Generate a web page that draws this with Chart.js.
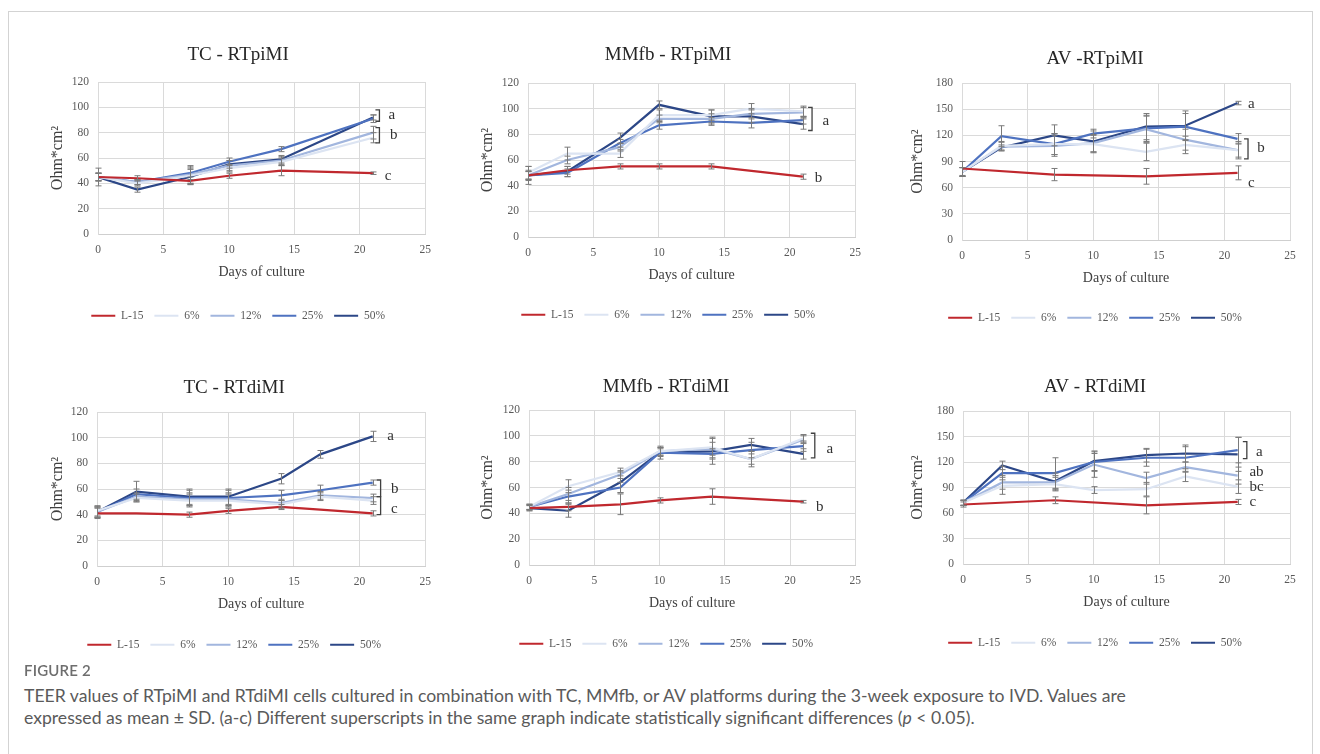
<!DOCTYPE html>
<html><head><meta charset="utf-8">
<script src="https://cdn.jsdelivr.net/npm/chart.js@4.4.1/dist/chart.umd.min.js"></script>
<style>
html,body{margin:0;padding:0;background:#fff}
body{width:1320px;height:754px;overflow:hidden;position:relative}
#frame{position:absolute;left:8px;top:11px;width:1305px;height:780px;border:1px solid #d3d3d3;box-sizing:border-box}
.cw{position:absolute}
#figlabel{position:absolute;left:24px;top:661px;font:600 15px Lato,sans-serif;color:#6e6e6e;letter-spacing:0.2px}
#caption{position:absolute;left:24px;top:685px;width:1285px;font:17.6px/22px Lato,sans-serif;color:#5a5a5a}
</style></head>
<body>
<div id="frame"></div>
<div class="cw" id="w0"><canvas id="c0"></canvas></div>
<div class="cw" id="w1"><canvas id="c1"></canvas></div>
<div class="cw" id="w2"><canvas id="c2"></canvas></div>
<div class="cw" id="w3"><canvas id="c3"></canvas></div>
<div class="cw" id="w4"><canvas id="c4"></canvas></div>
<div class="cw" id="w5"><canvas id="c5"></canvas></div>
<div id="figlabel">FIGURE 2</div>
<div id="caption">TEER values of RTpiMI and RTdiMI cells cultured in combination with TC, MMfb, or AV platforms during the 3-week exposure to IVD. Values are<br>expressed as mean ± SD. (a-c) Different superscripts in the same graph indicate statistically significant differences (<i>p</i> &lt; 0.05).</div>
<script>
// ---------------- DATA ----------------
const days = [0, 3, 7, 10, 14, 17, 21];
const seriesNames = ['L-15', '6%', '12%', '25%', '50%'];
const chartTitles = ['TC - RTpiMI', 'MMfb - RTpiMI', 'AV -RTpiMI', 'TC - RTdiMI', 'MMfb - RTdiMI', 'AV - RTdiMI'];
const yMaxima = [120, 120, 180, 120, 120, 180];
const yStepSizes = [20, 20, 30, 20, 20, 30];
const xAxisTitle = 'Days of culture';
const yAxisTitle = 'Ohm*cm²';

// TC - RTpiMI (rows: L-15, 6%, 12%, 25%, 50%)
const tcPiMean = [
  [45, 44, 42, 46, 50, null, 48],
  [45, 40, 46, 52, 57, null, 76],
  [45, 41, 47, 54, 58, null, 80],
  [45, 41, 48, 57, 67, null, 91],
  [45, 35, 45, 55, 59, null, 92]
];
const tcPiSd = [
  [7, 2, 3, 2, 4, null, 1],
  [3, 2, 6, 3, 3, null, 4],
  [3, 2, 7, 4, 3, null, 5],
  [3, 2, 5, 3, 2, null, 3],
  [3, 2, 6, 3, 3, null, 2]
];
// MMfb - RTpiMI
const mmPiMean = [
  [48, 52, 55, 55, 55, null, 47],
  [50, 65, 65, 95, 95, 100, 98],
  [48, 60, 70, 92, 92, 96, 97],
  [48, 50, 73, 87, 90, 89, 91],
  [48, 51, 77, 103, 94, 94, 88]
];
const mmPiSd = [
  [7, 3, 2, 2, 2, null, 2],
  [5, 5, 3, 4, 4, 4, 4],
  [4, 3, 3, 3, 4, 4, 4],
  [3, 3, 3, 3, 3, 4, 3],
  [3, 4, 4, 3, 5, 5, 4]
];
// AV - RTpiMI
const avPiMean = [
  [82, null, 75, null, 73, null, 77],
  [78, 108, 110, 110, 101, 109, 103],
  [78, 107, 108, 111, 127, 115, 103],
  [78, 119, 110, 122, 128, 130, 116],
  [78, 106, 120, 113, 130, 131, 157]
];
const avPiSd = [
  [8, null, 7, null, 9, null, 8],
  [5, 5, 12, 10, 10, 10, 8],
  [5, 5, 12, 10, 15, 12, 10],
  [5, 12, 12, 5, 15, 15, 6],
  [5, 3, 12, 12, 15, 17, 2]
];
// TC - RTdiMI
const tcDiMean = [
  [41, 41, 40, 43, 46, 44, 41],
  [43, 53, 51, 51, 48, 54, 51],
  [42, 54, 52, 52, 49, 55, 53],
  [42, 56, 53, 53, 55, 59, 65],
  [42, 58, 54, 54, 68, 87, 101]
];
const tcDiSd = [
  [4, null, 2, 2, 2, null, 2],
  [4, 3, 5, 5, 3, 3, 3],
  [4, 3, 5, 5, 3, 3, 3],
  [4, 4, 6, 6, 4, 4, 2],
  [4, 8, 6, 6, 4, 3, 4]
];
// MMfb - RTdiMI
const mmDiMean = [
  [44, 45, 47, 50, 53, null, 49],
  [45, 61, 72, 88, 91, 82, 98],
  [45, 55, 70, 88, 90, 82, 97],
  [45, 53, 60, 87, 86, 89, 92],
  [44, 42, 64, 87, 88, 93, 86]
];
const mmDiSd = [
  [2, 3, 8, 2, 6, null, 1],
  [2, 5, 3, 3, 8, 4, 3],
  [2, 5, 3, 3, 5, 6, 3],
  [2, 5, 4, 3, 4, 6, 4],
  [2, 5, 8, 5, 10, 5, 4]
];
// AV - RTdiMI
const avDiMean = [
  [70, null, 75, null, 69, null, 73],
  [72, 92, 94, 87, 88, 103, 91],
  [72, 96, 96, 117, 101, 114, 104],
  [72, 107, 107, 120, 125, 125, 134],
  [72, 116, 97, 121, 128, 130, 129]
];
const avDiSd = [
  [3, null, 4, null, 10, null, 3],
  [3, 10, 8, 4, 8, 6, 8],
  [3, 8, 8, 15, 7, 6, 10],
  [3, 8, 18, 10, 10, 13, 15],
  [3, 5, 10, 12, 8, 10, 20]
];
// significance letters (text, optional bracket span, placement in data units)
const sigLetters = [
  [{text:'a', bx:21.5, from:89, to:98, tx:22.2, ty:94}, {text:'b', bx:21.5, from:72, to:84, tx:22.3, ty:78}, {text:'c', tx:21.9, ty:46}],
  [{text:'a', bx:21.7, from:83, to:101, tx:22.5, ty:90}, {text:'b', tx:21.9, ty:46}],
  [{text:'a', tx:21.8, ty:156}, {text:'b', bx:21.8, from:93, to:116, tx:22.5, ty:105}, {text:'c', tx:21.8, ty:65}],
  [{text:'a', tx:22.1, ty:101}, {text:'b', bx:21.6, from:54, to:67, tx:22.4, ty:60}, {text:'c', bx:21.6, from:40, to:54, tx:22.4, ty:44}],
  [{text:'a', bx:21.9, from:83, to:102, tx:22.8, ty:90}, {text:'b', tx:22.0, ty:45}],
  [{text:'a', bx:21.7, from:124, to:144, tx:22.4, ty:132}, {text:'ab', tx:21.9, ty:108}, {text:'bc', tx:21.9, ty:91}, {text:'c', tx:21.9, ty:73}]
];
const allMeans = [tcPiMean, mmPiMean, avPiMean, tcDiMean, mmDiMean, avDiMean];
const allSds = [tcPiSd, mmPiSd, avPiSd, tcDiSd, mmDiSd, avDiSd];

// ---------------- STYLE / LAYOUT ----------------
const SERIF = "'Liberation Serif', 'Times New Roman', serif";
const seriesColors = ['#c0282e', '#dce4f2', '#a2b6de', '#4e72c0', '#2c4787'];
const canvasRects = [
  {x:40, y:30, w:400, h:320}, {x:470, y:30, w:400, h:320}, {x:900, y:30, w:410, h:320},
  {x:40, y:362, w:400, h:305}, {x:470, y:362, w:400, h:305}, {x:900, y:362, w:410, h:305}
];
const plotAreas = [
  {L:58, R:388, T:52, B:204}, {L:58, R:388, T:53, B:207}, {L:62, R:390, T:53, B:210},
  {L:57, R:386, T:50, B:204}, {L:59, R:387, T:48, B:203}, {L:63, R:390, T:49, B:202}
];
const titleCenters = [25, 25, 29, 26, 25, 25];
const xAxisHeights = [65, 61, 61, 62, 62, 62];

const errorBarPlugin = {
  id: 'errorBars',
  afterDatasetsDraw(chart) {
    const ctx = chart.ctx, xs = chart.scales.x, ys = chart.scales.y;
    ctx.save();
    ctx.strokeStyle = '#7a7a7a';
    ctx.lineWidth = 1;
    chart.data.datasets.forEach(ds => {
      ds.data.forEach((p, i) => {
        const sd = ds.sd[i];
        if (p.y == null || sd == null) return;
        const px = Math.round(xs.getPixelForValue(p.x)) + 0.5;
        const y1 = ys.getPixelForValue(p.y + sd), y2 = ys.getPixelForValue(p.y - sd);
        ctx.beginPath();
        ctx.moveTo(px, y1); ctx.lineTo(px, y2);
        ctx.moveTo(px - 3, y1); ctx.lineTo(px + 3, y1);
        ctx.moveTo(px - 3, y2); ctx.lineTo(px + 3, y2);
        ctx.stroke();
      });
    });
    ctx.restore();
  }
};

const sigPlugin = {
  id: 'sigLetters',
  afterDatasetsDraw(chart, args, opts) {
    const ctx = chart.ctx, xs = chart.scales.x, ys = chart.scales.y;
    ctx.save();
    ctx.strokeStyle = '#404040';
    ctx.fillStyle = '#333333';
    ctx.lineWidth = 1.3;
    ctx.font = '15px ' + SERIF;
    ctx.textAlign = 'left';
    ctx.textBaseline = 'middle';
    (opts.items || []).forEach(it => {
      if (it.bx != null) {
        const bx = xs.getPixelForValue(it.bx);
        const t = ys.getPixelForValue(it.to), b = ys.getPixelForValue(it.from);
        ctx.beginPath();
        ctx.moveTo(bx - 4, t); ctx.lineTo(bx, t); ctx.lineTo(bx, b); ctx.lineTo(bx - 4, b);
        ctx.stroke();
      }
      ctx.fillText(it.text, xs.getPixelForValue(it.tx), ys.getPixelForValue(it.ty));
    });
    ctx.restore();
  }
};

function buildChart(k) {
  const rect = canvasRects[k], area = plotAreas[k];
  const wrap = document.getElementById('w' + k);
  wrap.style.left = rect.x + 'px'; wrap.style.top = rect.y + 'px';
  wrap.style.width = rect.w + 'px'; wrap.style.height = rect.h + 'px';
  const canvas = document.getElementById('c' + k);
  canvas.width = rect.w; canvas.height = rect.h;
  canvas.style.width = rect.w + 'px'; canvas.style.height = rect.h + 'px';
  const mean = allMeans[k], sd = allSds[k];
  const xh = xAxisHeights[k];
  const datasets = seriesNames.map((name, s) => ({
    label: name,
    data: days.map((d, i) => ({x: d, y: mean[s][i]})),
    sd: sd[s],
    borderColor: seriesColors[s],
    backgroundColor: seriesColors[s],
    borderWidth: 2.2,
    pointRadius: 0,
    pointHoverRadius: 0,
    tension: 0,
    spanGaps: true
  }));
  const cfg = {
    type: 'line',
    data: { datasets },
    options: {
      responsive: false,
      animation: false,
      events: [],
      layout: { padding: { left: 0, right: rect.w - area.R, top: 0, bottom: 0 } },
      scales: {
        x: {
          type: 'linear', min: 0, max: 25,
          ticks: { stepSize: 5, padding: 9, color: '#595959', font: { family: SERIF, size: 11.5 } },
          grid: { color: '#dadada', drawTicks: false },
          border: { color: '#cfcfcf' },
          title: { display: true, text: xAxisTitle, color: '#404040', font: { family: SERIF, size: 14 }, padding: { top: 0, bottom: xh - 47 } },
          afterFit(s) { s.height = xh; }
        },
        y: {
          type: 'linear', min: 0, max: yMaxima[k],
          ticks: { stepSize: yStepSizes[k], padding: 9, color: '#595959', font: { family: SERIF, size: 11.5 } },
          grid: { color: '#dadada', drawTicks: false },
          border: { color: '#dadada' },
          title: { display: true, text: yAxisTitle, color: '#404040', font: { family: SERIF, size: 16 }, padding: 8 },
          afterFit(s) { s.width = area.L; }
        }
      },
      plugins: {
        title: { display: true, text: chartTitles[k], color: '#262626', font: { family: SERIF, size: 19, weight: 'normal' }, padding: { top: titleCenters[k] - 11.4, bottom: 10 } },
        legend: {
          position: 'bottom',
          labels: { usePointStyle: true, pointStyle: 'line', pointStyleWidth: 24, boxHeight: 10, padding: 11, color: '#595959', font: { family: SERIF, size: 11.5 } }
        },
        tooltip: { enabled: false },
        sigLetters: { items: sigLetters[k] }
      }
    },
    plugins: [errorBarPlugin, sigPlugin]
  };
  const chart = new Chart(canvas, cfg);
  for (let pass = 0; pass < 3; pass++) {
    const ca = chart.chartArea, o = chart.config.options;
    o.plugins.title.padding.bottom += area.T - ca.top;
    o.layout.padding.bottom += ca.bottom - area.B;
    o.layout.padding.right += ca.right - area.R;
    chart.update('none');
  }
  return chart;
}
for (let k = 0; k < 6; k++) buildChart(k);
</script>
</body></html>
